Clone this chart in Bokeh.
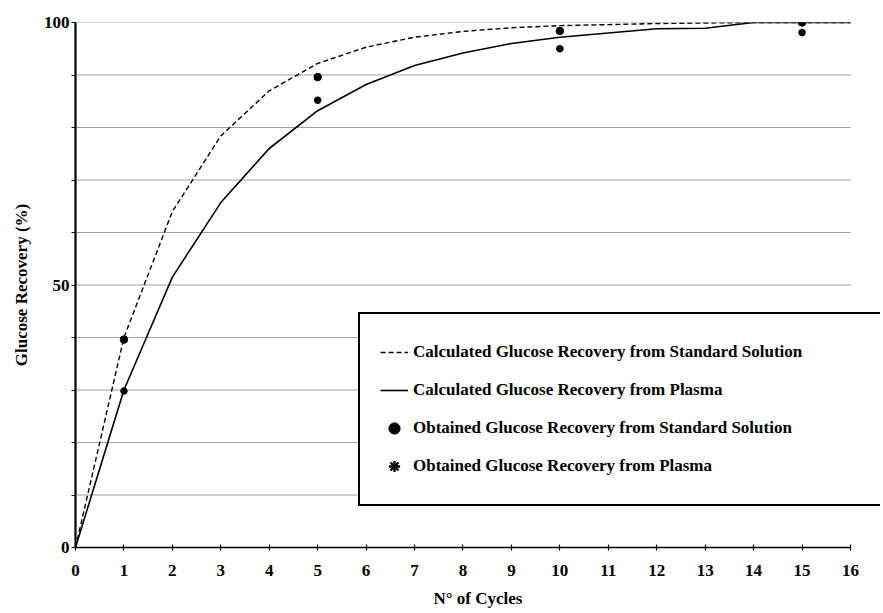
from bokeh.plotting import figure
from bokeh.models import Range1d, FixedTicker, Legend, LegendItem
from bokeh.embed import file_html
from bokeh.resources import INLINE

# ---- data ----
cycles = list(range(17))
calc_standard = [0, 40, 64, 78.4, 87, 92.2, 95.3, 97.2, 98.3, 99, 99.4, 99.6, 99.8, 99.9, 100, 100, 100]
calc_plasma = [0, 30, 51.5, 65.7, 76, 83.2, 88.2, 91.8, 94.2, 96, 97.2, 98, 98.8, 98.9, 100, 100, 100]
obs_cycles = [1, 5, 10, 15]
obs_standard = [39.6, 89.6, 98.4, 100]
obs_plasma = [29.8, 85.2, 95.0, 98.1]
x_ticks = list(range(0, 17))
y_ticks = list(range(0, 101, 10))
y_tick_labels = {0: "0", 50: "50", 100: "100"}
x_max = 16

FONT = "Liberation Serif"

p = figure(width=880, height=612, output_backend="svg", toolbar_location=None,
           x_range=Range1d(0, 16.62), y_range=Range1d(0, 100),
           min_border_left=75, min_border_right=0, min_border_top=22, min_border_bottom=65)
p.outline_line_color = None
p.background_fill_color = "white"
p.xgrid.visible = False
p.ygrid.visible = False

# horizontal dotted grid lines from the y ticks, spanning the x axis extent
grid_y = [t for t in y_ticks if t > 0]
p.segment(x0=[0] * len(grid_y), x1=[x_max] * len(grid_y), y0=grid_y, y1=grid_y,
          line_color="black", line_alpha=0.75, line_width=1, line_dash="1 1")

r_std = p.line(cycles, calc_standard, line_color="black", line_width=1.4, line_dash="5 3")
r_pl = p.line(cycles, calc_plasma, line_color="black", line_width=1.6)
r_ostd = p.scatter(obs_cycles, obs_standard, marker="circle", size=7.5, color="black")
r_opl = p.scatter(obs_cycles, obs_plasma, marker="asterisk", size=7.5, line_color="black", line_width=2.3)

# axes
for ax in (p.xaxis[0], p.yaxis[0]):
    ax.axis_line_color = "black"
    ax.major_tick_line_color = "black"
    ax.minor_tick_line_color = None
    ax.major_tick_line_width = 1.2
    ax.major_label_text_color = "black"
    ax.major_label_text_font = FONT
    ax.major_label_text_font_style = "bold"
    ax.major_label_text_font_size = "17px"
    ax.axis_label_text_color = "black"
    ax.axis_label_text_font = FONT
    ax.axis_label_text_font_style = "bold"
    ax.axis_label_text_font_size = "17px"

xa = p.xaxis[0]
xa.ticker = FixedTicker(ticks=x_ticks)
xa.bounds = (0, x_max)
xa.axis_label = "N° of Cycles"
xa.axis_line_width = 1.5
xa.major_tick_in = 3
xa.major_tick_out = 3
xa.major_label_standoff = 14
xa.axis_label_standoff = 10

ya = p.yaxis[0]
ya.ticker = FixedTicker(ticks=y_ticks)
ya.major_label_overrides = {t: y_tick_labels.get(t, "") for t in y_ticks}
ya.axis_label = "Glucose Recovery (%)"
ya.axis_line_width = 2.2
ya.major_tick_in = 0
ya.major_tick_out = 4
ya.major_label_standoff = 2
ya.axis_label_standoff = 10

legend = Legend(items=[
    LegendItem(label="Calculated Glucose Recovery from Standard Solution", renderers=[r_std]),
    LegendItem(label="Calculated Glucose Recovery from Plasma", renderers=[r_pl]),
    LegendItem(label="Obtained Glucose Recovery from Standard Solution", renderers=[r_ostd]),
    LegendItem(label="Obtained Glucose Recovery from Plasma", renderers=[r_opl]),
], location=(283, 41), padding=20, spacing=2, margin=0,
    glyph_width=28, glyph_height=36, label_height=36, label_standoff=5, label_width=520,
    border_line_color="black", border_line_width=2, border_line_alpha=1,
    background_fill_color="white", background_fill_alpha=1,
    label_text_font=FONT, label_text_font_style="bold", label_text_font_size="17px",
    label_text_color="black")
p.add_layout(legend)

open("out.html", "w").write(file_html(p, INLINE))
